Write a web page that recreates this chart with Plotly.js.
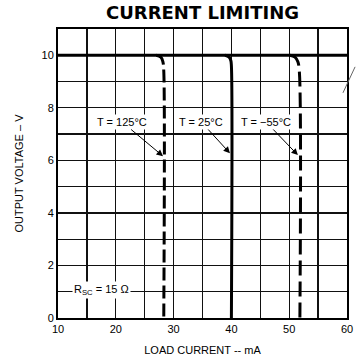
<!DOCTYPE html>
<html>
<head>
<meta charset="utf-8">
<script src="https://cdn.plot.ly/plotly-3.0.1.min.js"></script>
<style>html,body{margin:0;padding:0;background:#fff;}#chart{width:356px;height:360px;}</style>
</head>
<body>
<div id="chart"></div>
<script>
// Data
const flatX = [10, 60];
const flatY = [10, 10];
const t125X = [27.0, 27.8, 28.15, 28.3, 28.3];
const t125Y = [10, 9.93, 9.75, 9.4, 0];
const t25X = [38.9, 39.6, 39.9, 40.0, 40.0];
const t25Y = [10, 9.93, 9.8, 9.6, 0];
const tm55X = [50.1, 51.0, 51.5, 51.75, 51.85];
const tm55Y = [10, 9.93, 9.75, 9.4, 0];
const labels = ["T = 125°C", "T = 25°C", "T = −55°C"];
const labelX = [21.1, 34.8, 46.0];
const labelY = [7.46, 7.46, 7.46];
const arrowTipX = [28.17, 39.75, 51.5];
const arrowTipY = [6.16, 6.27, 6.2];
const xTicks = [10, 20, 30, 40, 50, 60];
const yTicks = [0, 2, 4, 6, 8, 10];

const font = "Liberation Sans, Arial, Helvetica, sans-serif";

const traces = [
  {x: flatX, y: flatY, mode: 'lines', line: {color: '#000', width: 3}, hoverinfo: 'skip'},
  {x: t125X, y: t125Y, mode: 'lines', line: {color: '#000', width: 3, dash: '13px,5px', shape: 'spline'}, hoverinfo: 'skip'},
  {x: t25X, y: t25Y, mode: 'lines', line: {color: '#000', width: 3, shape: 'spline'}, hoverinfo: 'skip'},
  {x: tm55X, y: tm55Y, mode: 'lines', line: {color: '#000', width: 3, dash: '15px,6px', shape: 'spline'}, hoverinfo: 'skip'}
];

const annotations = [];
for (let i = 0; i < labels.length; i++) {
  annotations.push({x: arrowTipX[i], y: arrowTipY[i], xref: 'x', yref: 'y',
    ax: labelX[i], ay: labelY[i], axref: 'x', ayref: 'y',
    text: labels[i], showarrow: true, arrowhead: 2, arrowsize: 1.3, arrowwidth: 1, arrowcolor: '#000',
    bgcolor: '#fff', borderpad: 1, font: {family: font, size: 11, color: '#000'}});
}
annotations.push({x: 17.55, y: 1.06, xref: 'x', yref: 'y', text: 'R<sub>SC</sub> = 15 Ω',
  showarrow: false, bgcolor: '#fff', borderpad: 1, font: {family: font, size: 11, color: '#000'}});

const axisCommon = {
  showline: true, mirror: true, linecolor: '#000', linewidth: 2,
  showgrid: true, gridcolor: '#111', gridwidth: 1.3,
  ticks: '', zeroline: false, fixedrange: true,
  tickfont: {family: font, size: 11, color: '#000'}
};

const layout = {
  width: 356, height: 360,
  margin: {l: 58, r: 9, t: 29, b: 42},
  paper_bgcolor: '#fff', plot_bgcolor: '#fff',
  showlegend: false,
  title: {text: '<b>CURRENT LIMITING</b>', font: {family: 'DejaVu Sans, sans-serif', size: 18, color: '#000'},
    x: 0.5, xref: 'paper', y: 0.965, yref: 'container', yanchor: 'middle'},
  xaxis: Object.assign({}, axisCommon, {
    range: [10, 60], tickvals: xTicks,
    minor: {dtick: 5, showgrid: true, gridcolor: '#111', gridwidth: 1.3},
    title: {text: 'LOAD CURRENT -- mA', standoff: 12, font: {family: font, size: 11, color: '#000'}}
  }),
  yaxis: Object.assign({}, axisCommon, {
    range: [0, 11], tickvals: yTicks,
    minor: {dtick: 1, showgrid: true, gridcolor: '#111', gridwidth: 1.3},
    title: {text: 'OUTPUT VOLTAGE – V', standoff: 16, font: {family: font, size: 11, color: '#000'}}
  }),
  annotations: annotations,
  shapes: [{type: 'line', xref: 'paper', yref: 'paper', x0: 0.986, y0: 0.779, x1: 1.028, y1: 0.869,
    line: {color: '#666', width: 1}}]
};

Plotly.newPlot('chart', traces, layout, {displayModeBar: false, staticPlot: true});
</script>
</body>
</html>
